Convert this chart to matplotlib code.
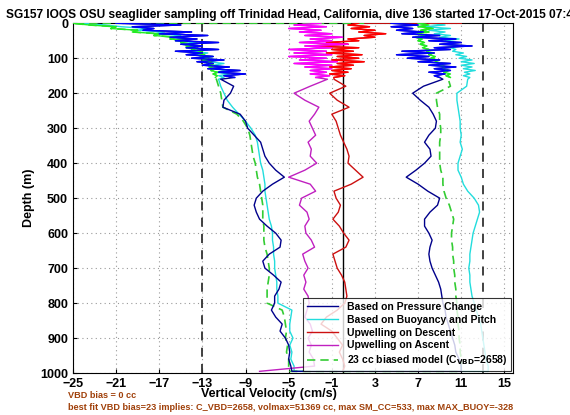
import numpy as np
import matplotlib
matplotlib.use("Agg")
import matplotlib.pyplot as plt

plt.rcParams['font.family'] = ['Liberation Sans', 'DejaVu Sans']
plt.rcParams['font.weight'] = 'bold'

# depth grids (m)
depth_top = list(range(0, 160, 5))
depth_deep = list(range(160, 1000, 20)) + [995]

# --- descent branch (velocity, cm/s) ---
blue_desc_top = [-21.0, -15.0, -19.5, -17.5, -18.5, -14.0, -17.0, -12.5, -16.0, -13.5, -15.5, -11.5,
                 -15.0, -13.0, -14.5, -11.5, -15.5, -13.0, -14.5, -12.0, -14.0, -11.0, -13.5, -12.0,
                 -13.0, -10.5, -12.5, -9.5, -11.5, -9.0, -11.0, -10.0]
blue_desc_deep = [-11.3, -10.1, -10.4, -11.0, -11.1, -9.5, -9.0, -8.8, -8.2, -7.6, -7.4, -7.2,
                  -6.8, -6.2, -5.4, -6.5, -7.4, -8.0, -8.2, -8.0, -7.7, -7.0, -6.2, -5.7,
                  -5.8, -6.8, -7.4, -7.2, -6.4, -5.7, -5.9, -6.3, -6.3, -6.6, -6.2, -5.6,
                  -5.8, -5.3, -5.0, -4.9, -5.0, -4.8, -4.7]
cyan_desc_top = [-24.0, -22.0, -20.5, -18.0, -19.0, -16.5, -17.5, -15.0, -16.0, -14.0, -15.5, -13.5,
                 -15.0, -13.0, -14.5, -12.5, -14.0, -12.5, -13.5, -12.0, -13.0, -11.5, -12.5, -11.0,
                 -12.0, -11.0, -12.0, -10.5, -11.8, -10.5, -11.5, -11.0]
cyan_desc_deep = [-11.5, -11.3, -11.0, -10.7, -10.2, -9.6, -9.0, -8.5, -8.1, -7.9, -7.8, -7.7,
                  -7.6, -7.4, -7.3, -7.2, -7.2, -7.1, -7.0, -6.9, -6.8, -6.6, -6.5, -6.5,
                  -6.4, -6.4, -6.3, -6.3, -6.2, -6.1, -6.1, -6.0, -6.0, -4.7, -4.8, -4.9,
                  -4.9, -4.6, -4.9, -4.7, -4.8, -4.5, -4.5]
green_desc_top = [-25.0, -23.5, -21.0, -21.5, -19.0, -19.5, -17.0, -17.5, -15.5, -16.0, -14.5, -15.0,
                  -14.0, -14.5, -13.5, -14.0, -13.0, -13.5, -12.8, -13.2, -12.5, -13.0, -12.2, -12.6,
                  -12.0, -12.4, -11.8, -12.2, -11.6, -12.0, -11.6, -11.8]
green_desc_deep = [-11.7, -11.5, -11.3, -11.2, -11.1, -9.8, -9.2, -8.8, -8.6, -8.5, -8.4, -8.3,
                   -8.1, -8.0, -7.9, -7.7, -7.6, -7.5, -7.4, -7.4, -7.4, -7.3, -7.3, -7.3,
                   -7.2, -7.0, -6.9, -6.8, -6.8, -6.9, -7.0, -7.0, -7.0, -5.6, -5.4, -5.3,
                   -5.2, -5.3, -5.1, -5.2, -5.0, -5.0, -5.0]

# --- ascent branch (listed top to bottom) ---
blue_asc_top = [4.5, 7.0, 4.5, 6.5, 5.0, 7.5, 5.5, 9.0, 6.5, 10.5, 8.0, 11.0,
                9.0, 12.0, 8.5, 10.0, 5.5, 8.5, 5.0, 8.0, 6.0, 9.0, 7.0, 10.0,
                8.0, 10.5, 8.5, 10.0, 8.0, 9.5, 8.5, 9.0]
blue_asc_deep = [9.3, 7.5, 6.5, 7.2, 8.0, 8.4, 8.7, 8.6, 8.0, 7.6, 8.1, 8.2,
                 7.6, 6.8, 5.9, 7.0, 7.9, 9.0, 8.8, 8.1, 7.6, 7.6, 8.0, 8.3,
                 8.1, 8.0, 8.1, 8.3, 8.6, 8.9, 9.1, 9.2, 9.3, 9.5, 9.6, 9.8,
                 10.0, 10.2, 10.4, 10.5, 10.8, 11.0, 11.0]
cyan_asc_top = [8.0, 9.5, 7.5, 10.0, 8.0, 9.5, 8.5, 10.0, 9.0, 10.8, 9.5, 10.5,
                9.5, 11.0, 10.0, 10.5, 10.2, 11.2, 10.5, 11.5, 10.8, 12.0, 11.0, 12.2,
                11.0, 12.0, 11.2, 12.3, 11.3, 11.8, 11.2, 11.8]
cyan_asc_deep = [11.6, 11.5, 10.6, 10.6, 10.7, 10.8, 10.9, 10.9, 11.0, 10.9, 11.1, 10.9,
                 10.7, 10.7, 11.0, 11.2, 11.6, 12.2, 12.6, 12.7, 12.5, 12.3, 12.1, 12.0,
                 11.9, 11.8, 11.8, 11.7, 11.8, 11.8, 11.9, 12.0, 12.2, 12.4, 12.6, 12.8,
                 12.9, 13.0, 13.1, 13.2, 13.3, 13.5, 13.5]
green_asc_top = [7.0, 8.0, 7.0, 8.4, 7.2, 8.0, 7.0, 7.6, 6.8, 7.4, 7.0, 7.6,
                 7.2, 7.8, 7.4, 8.0, 7.8, 8.4, 8.0, 8.6, 8.2, 8.8, 8.6, 9.2,
                 9.0, 9.6, 9.2, 9.8, 9.4, 10.0, 9.6, 10.0]
green_asc_deep = [9.8, 10.0, 8.7, 8.7, 8.8, 9.0, 9.0, 9.1, 9.1, 9.0, 9.0, 9.0,
                  9.0, 9.1, 9.3, 9.3, 9.4, 9.6, 9.9, 10.1, 10.3, 10.2, 10.1, 10.1,
                  10.2, 10.2, 10.3, 10.3, 10.4, 10.4, 10.5, 10.5, 10.6, 10.6, 10.7, 10.7,
                  10.8, 10.8, 10.9, 10.9, 11.0, 11.0, 11.0]

# --- upwelling estimates ---
red_top = [1.5, 0.5, 2.5, 0.8, 3.0, 1.5, 4.0, 2.0, 3.0, 0.5, 1.5, -1.5,
           0.5, -3.0, 1.5, -1.0, 1.0, -1.5, 1.8, -0.5, 1.5, -1.0, 2.0, -0.5,
           1.0, -1.2, 0.8, -1.0, 0.5, -1.2, 0.2, -0.8]
red_deep = [-0.8, 0.3, -1.2, -0.5, 0.6, -1.0, -0.6, -0.4, -0.2, 0.1, 0.4, 0.6,
            0.5, 1.2, 1.9, 0.8, -0.8, -0.6, -0.2, -0.4, -0.9, -0.3, 0.1, 0.6,
            0.3, -0.9, -0.7, -0.5, -0.1, 0.2, 0.3, 0.4, 0.2, -0.5, -1.5, -2.0,
            -1.0, -0.5, 0.0, -0.3, 0.0, 0.2, 0.0]
magenta_top = [-2.0, -4.5, -1.5, -5.0, -2.0, -4.0, -1.0, -3.5, 0.0, -3.0, -1.0, -4.0,
               0.5, -3.5, -1.0, -5.0, -1.5, -4.5, -1.0, -5.0, -1.5, -4.0, -0.5, -4.5,
               -1.0, -3.5, -1.0, -3.0, -1.5, -3.0, -1.2, -2.5]
magenta_deep = [-1.4, -3.0, -4.5, -3.5, -2.2, -2.6, -3.1, -2.8, -2.5, -3.2, -2.9, -3.0,
                -2.4, -3.5, -5.0, -3.0, -2.5, -3.8, -4.0, -3.3, -3.1, -3.5, -3.4, -2.9,
                -2.6, -3.7, -3.5, -3.2, -3.6, -3.4, -3.6, -3.2, -3.1, -3.3, -3.5, -3.0,
                -2.8, -3.2, -2.9, -3.1, -2.7, -2.6, -7.7]

# surface end points of the dive (depth 0)
green_surface_x = 2.0
red_surface_x = 11.0

title = "SG157 IOOS OSU seaglider sampling off Trinidad Head, California, dive 136 started 17-Oct-2015 07:46"
note1 = "VBD bias = 0 cc"
note2 = "best fit VBD bias=23 implies: C_VBD=2658, volmax=51369 cc, max SM_CC=533, max MAX_BUOY=-328"
xticks = list(range(-25, 16, 4))
yticks = list(range(0, 1001, 100))


def dive(desc, asc):
    d = depth_top + depth_deep
    return desc + asc[::-1], d + d[::-1]


fig = plt.figure(figsize=(5.7, 4.15), dpi=100)
ax = fig.add_axes([0.128, 0.101, 0.772, 0.843])

# reference lines
ax.axvline(0, color='black', lw=1.0, zorder=2)
for xv in (-13, 13):
    ax.axvline(xv, color='#333333', lw=1.3, ls=(0, (5, 4)), zorder=2)

x, d = dive(blue_desc_top + blue_desc_deep, blue_asc_top + blue_asc_deep)
l_blue, = ax.plot(x, d, color='#00008b', lw=1.0, zorder=4, label='Based on Pressure Change')
x, d = dive(cyan_desc_top + cyan_desc_deep, cyan_asc_top + cyan_asc_deep)
l_cyan, = ax.plot(x, d, color='#22dddd', lw=1.0, zorder=3, label='Based on Buoyancy and Pitch')
l_red, = ax.plot([red_surface_x] + red_top + red_deep, [0] + depth_top + depth_deep,
                 color='#cc1010', lw=1.0, zorder=3, label='Upwelling on Descent')
l_mag, = ax.plot(magenta_top + magenta_deep, depth_top + depth_deep,
                 color='#c020c0', lw=1.0, zorder=3, label='Upwelling on Ascent')
x, d = dive(green_desc_top + green_desc_deep, green_asc_top + green_asc_deep)
l_green, = ax.plot([green_surface_x] + x, [0] + d, color='#33cc33', lw=1.2, ls=(0, (5, 3)),
                   zorder=3, label=r'23 cc biased model (C$_{\mathbf{VBD}}$=2658)')

# noisy near-surface samples
ax.plot(green_desc_top, depth_top, color='#22ee22', lw=1.0, zorder=4)
ax.plot(green_asc_top, depth_top, color='#22ee22', lw=1.0, zorder=4)
ax.plot(red_top, depth_top, color='#ff0000', lw=1.0, zorder=4)
ax.plot(magenta_top, depth_top, color='#ff00ff', lw=1.0, zorder=4)
ax.plot(blue_desc_top, depth_top, color='#0000ff', lw=1.0, zorder=5)
ax.plot(blue_asc_top, depth_top, color='#0000ff', lw=1.0, zorder=5)

ax.set_xlim(-25, 15.8)
ax.set_ylim(1000, 0)
ax.set_xticks(xticks)
ax.set_yticks(yticks)
ax.tick_params(labelsize=9, direction='in', length=3)
ax.grid(True, color='#999999', ls=(0, (1, 3)), lw=0.8)
ax.set_title(title, fontsize=8.6, fontweight='bold', pad=4)
ax.set_xlabel("Vertical Velocity (cm/s)", fontsize=9, fontweight='bold')
ax.xaxis.set_label_coords(0.445, -0.044)
ax.set_ylabel("Depth (m)", fontsize=9, fontweight='bold')

leg = ax.legend(handles=[l_blue, l_cyan, l_red, l_mag, l_green], loc='lower right',
                fontsize=7.5, frameon=True, fancybox=False, edgecolor='black',
                borderaxespad=0.2, handlelength=3.0, labelspacing=0.28, borderpad=0.35)
leg.get_frame().set_linewidth(0.8)

fig.text(0.119, 0.041, note1, color='#a0400a', fontsize=6.6, fontweight='bold')
fig.text(0.119, 0.011, note2, color='#a0400a', fontsize=6.6, fontweight='bold')

plt.savefig("out.png", dpi=100)
plt.close()
